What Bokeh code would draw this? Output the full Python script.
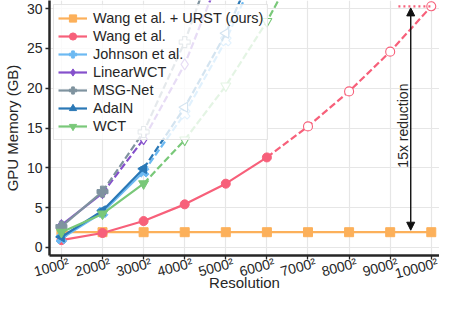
from math import pi
from bokeh.plotting import figure
from bokeh.models import (FixedTicker, Legend, LegendItem, Arrow, NormalHead,
                          Label, Range1d, LinearAxis)
from bokeh.embed import file_html
from bokeh.resources import INLINE

# ---------------- data ----------------
resolutions = ["1000²", "2000²", "3000²", "4000²", "5000²",
               "6000²", "7000²", "8000²", "9000²", "10000²"]
res_idx = [1, 2, 3, 4, 5, 6, 7, 8, 9, 10]

method_names = ["Wang et al. + URST (ours)", "Wang et al.", "Johnson et al.",
                "LinearWCT", "MSG-Net", "AdaIN", "WCT"]

urst = [1.9, 1.9, 1.9, 1.9, 1.9, 1.9, 1.9, 1.9, 1.9, 1.9]
wang = [0.9, 1.8, 3.3, 5.4, 8.0, 11.3, 15.2, 19.6, 24.6, 30.3]
johnson = [1.1, 4.4, 9.5, 16.8, 26.0, 37.5]
linearwct = [2.8, 6.8, 13.6, 23.0, 36.0]
msgnet = [2.6, 7.0, 14.5, 25.8, 40.3]
adain = [1.3, 4.6, 9.9, 17.6, 26.9, 38.8]
wct = [1.9, 4.2, 8.0, 13.5, 20.3, 28.4, 37.9]

# number of actually measured points (rest are estimated -> dashed / hollow)
measured = [10, 6, 3, 2, 2, 3, 3]

y_ticks = [0, 5, 10, 15, 20, 25, 30]

series = [urst, wang, johnson, linearwct, msgnet, adain, wct]
colors = ["#fcb05a", "#f7607a", "#6cb9f2", "#8550cc", "#7f939f", "#2a78b6", "#79c879"]
markers = ["square", "circle", "plus", "diamond", "plus", "triangle", "inverted_triangle"]
angles = [0, 0, pi / 4, 0, 0, pi / 2, 0]
sizes = [9, 9, 11, 11, 11, 10, 10]

FONT = "Liberation Sans"
TXT = "#262626"
LABEL_SHIFT = 0.18   # visual offset of rotated tick labels

p = figure(width=439, height=294, output_backend="svg", toolbar_location=None,
           x_range=Range1d(0.71, 10.2), y_range=Range1d(-1.03, 31.03),
           x_axis_location=None,
           min_border_top=0, min_border_right=0, min_border_left=30,
           min_border_bottom=20)
p.outline_line_color = None
p.background_fill_color = "white"

# grid
p.xgrid.ticker = FixedTicker(ticks=res_idx)
p.ygrid.ticker = FixedTicker(ticks=y_ticks)
for g in (p.xgrid[0], p.ygrid[0]):
    g.grid_line_color = "#e6e6e6"
    g.grid_line_width = 1.2

# x axis: line + ticks
xa = LinearAxis(ticker=FixedTicker(ticks=res_idx))
xa.major_label_text_font_size = "1px"
xa.major_label_text_color = None
xa.major_label_standoff = 0
# x axis: rotated labels + title
xl = LinearAxis(ticker=FixedTicker(ticks=[i + LABEL_SHIFT for i in res_idx]))
xl.major_label_overrides = {i + LABEL_SHIFT: r for i, r in zip(res_idx, resolutions)}
xl.major_label_orientation = pi / 12
xl.axis_line_color = None
xl.major_tick_line_color = None
xl.major_tick_out = 0
xl.major_tick_in = 0
xl.minor_tick_line_color = None
xl.major_label_standoff = 3
xl.axis_label = "Resolution"
xl.axis_label_standoff = -18

p.yaxis.ticker = FixedTicker(ticks=y_ticks)
p.yaxis.axis_label = "GPU Memory (GB)"
for ax in (xa, xl, p.yaxis[0]):
    ax.major_label_text_font = FONT
    ax.axis_label_text_font = FONT
    ax.axis_label_text_font_size = "15px"
    ax.axis_label_text_font_style = "normal"
    ax.axis_label_text_color = TXT
for ax in (xl, p.yaxis[0]):
    ax.major_label_text_font_size = "14px"
    ax.major_label_text_color = TXT
for ax in (xa, p.yaxis[0]):
    ax.axis_line_color = TXT
    ax.axis_line_width = 2.5
    ax.major_tick_line_color = TXT
    ax.major_tick_line_width = 1.3
    ax.major_tick_out = 4
    ax.major_tick_in = 0
    ax.minor_tick_line_color = None
p.yaxis.major_label_standoff = 3
p.yaxis.axis_label_standoff = 3
p.add_layout(xa, "below")
p.add_layout(xl, "below")

items = []
for name, vals, m, c, mk, ang, sz in zip(method_names, series, measured, colors,
                                        markers, angles, sizes):
    xs = res_idx[:len(vals)]
    solid_x, solid_y = xs[:m], vals[:m]
    r_line = p.line(solid_x, solid_y, line_color=c, line_width=2.2)
    if len(vals) > m:
        p.line(xs[m - 1:], vals[m - 1:], line_color=c, line_width=2.2,
               line_dash="7 3")
        p.scatter(xs[m:], vals[m:], marker=mk, size=sz, angle=ang,
                  fill_color="white", line_color=c, line_width=1.1)
    r_pts = p.scatter(solid_x, solid_y, marker=mk, size=sz, angle=ang,
                      fill_color=c, line_color=c, line_width=1)
    items.append(LegendItem(label=name, renderers=[r_line, r_pts]))

# annotation: reduction at the largest resolution
y_top = wang[-1]
y_bot = urst[-1]
p.line([9.2, res_idx[-1]], [y_top, y_top], line_color=colors[1], line_width=2.2,
       line_dash="2 3")
p.add_layout(Arrow(start=NormalHead(size=8, fill_color="#111111", line_color="#111111"),
                   end=NormalHead(size=8, fill_color="#111111", line_color="#111111"),
                   x_start=9.5, y_start=y_bot + 0.25, x_end=9.5, y_end=y_top - 0.2,
                   line_color="#111111", line_width=1.4))
p.add_layout(Label(x=9.3, y=15.3, text="15x reduction", angle=pi / 2,
                   text_align="center", text_baseline="middle",
                   text_font=FONT, text_font_size="14px", text_color=TXT))

legend = Legend(items=items, location="top_left")
legend.margin = 4
legend.padding = 4
legend.spacing = 0
legend.glyph_width = 29
legend.glyph_height = 18
legend.label_standoff = 6
legend.label_text_font = FONT
legend.label_text_font_size = "14.5px"
legend.label_text_color = TXT
legend.label_height = 18
legend.border_line_color = "#cccccc"
legend.border_line_width = 1
legend.background_fill_color = "white"
legend.background_fill_alpha = 0.8
p.add_layout(legend)

open("out.html", "w").write(file_html(p, INLINE))
